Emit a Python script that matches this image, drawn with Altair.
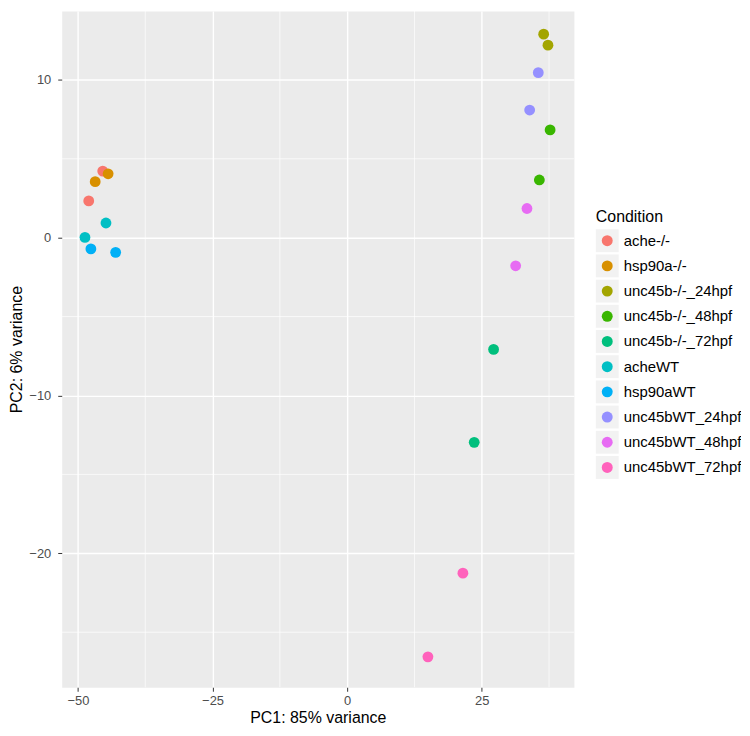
import altair as alt
import pandas as pd

# Legend / category order
conditions = ["ache-/-", "hsp90a-/-", "unc45b-/-_24hpf", "unc45b-/-_48hpf", "unc45b-/-_72hpf",
              "acheWT", "hsp90aWT", "unc45bWT_24hpf", "unc45bWT_48hpf", "unc45bWT_72hpf"]
palette = ["#F8766D", "#D89000", "#A3A500", "#39B600", "#00BF7D",
           "#00BFC4", "#00B0F6", "#9590FF", "#E76BF3", "#FF62BC"]

# Sample points
point_condition = ["ache-/-", "ache-/-", "hsp90a-/-", "hsp90a-/-", "acheWT", "acheWT",
                   "hsp90aWT", "hsp90aWT", "unc45b-/-_24hpf", "unc45b-/-_24hpf",
                   "unc45bWT_24hpf", "unc45bWT_24hpf", "unc45b-/-_48hpf", "unc45b-/-_48hpf",
                   "unc45bWT_48hpf", "unc45bWT_48hpf", "unc45b-/-_72hpf", "unc45b-/-_72hpf",
                   "unc45bWT_72hpf", "unc45bWT_72hpf"]
pc1 = [-45.4, -48.0, -44.4, -46.8, -44.8, -48.7, -47.6, -43.0, 36.5, 37.3,
       35.5, 33.9, 37.7, 35.7, 33.4, 31.3, 27.2, 23.6, 21.5, 15.0]
pc2 = [4.22, 2.33, 4.05, 3.55, 0.93, 0.02, -0.71, -0.93, 12.9, 12.2,
       10.46, 8.09, 6.83, 3.66, 1.85, -1.78, -7.08, -12.97, -21.26, -26.56]

x_ticks = [-50, -25, 0, 25]
y_ticks = [-20, -10, 0, 10]
x_minor = [-37.5, -12.5, 12.5, 37.5]
y_minor = [-25, -15, -5, 5]

FONT = "Liberation Sans"

df = pd.DataFrame({"Condition": point_condition, "PC1": pc1, "PC2": pc2})
legend_df = pd.DataFrame({"Condition": conditions, "idx": list(range(len(conditions)))})

color_scale = alt.Scale(domain=conditions, range=palette)
x_scale = alt.Scale(domain=[-53.02, 42.12], nice=False, zero=False)
y_scale = alt.Scale(domain=[-28.49, 14.37], nice=False, zero=False)

axis_common = dict(
    grid=True, gridColor="white", gridWidth=1.4, domain=False,
    tickColor="#333333", tickSize=4, tickWidth=1,
    labelFont=FONT, labelFontSize=13, labelColor="#4D4D4D",
    titleFont=FONT, titleFontSize=16, titleColor="black", titleFontWeight="normal",
)

xminor = alt.Chart(pd.DataFrame({"v": x_minor})).mark_rule(color="white", strokeWidth=0.7).encode(
    x=alt.X("v:Q", scale=x_scale)
)
yminor = alt.Chart(pd.DataFrame({"v": y_minor})).mark_rule(color="white", strokeWidth=0.7).encode(
    y=alt.Y("v:Q", scale=y_scale)
)
points = alt.Chart(df).mark_circle(size=118, opacity=1).encode(
    x=alt.X("PC1:Q", scale=x_scale, title="PC1: 85% variance",
            axis=alt.Axis(values=x_ticks, labelPadding=3, titlePadding=2, **axis_common)),
    y=alt.Y("PC2:Q", scale=y_scale, title="PC2: 6% variance",
            axis=alt.Axis(values=y_ticks, labelPadding=7, titlePadding=4, **axis_common)),
    color=alt.Color("Condition:N", scale=color_scale, legend=None),
)

main = alt.layer(xminor, yminor, points).properties(
    width=515, height=680,
    view=alt.ViewBackground(fill="#EBEBEB", stroke="transparent"),
)

leg_y = alt.Y("idx:Q", scale=alt.Scale(domain=[-9.12, 17.725], reverse=True, nice=False, zero=False), axis=None)
leg_boxes = alt.Chart(legend_df).mark_square(size=529, color="#F2F2F2", opacity=1).encode(
    x=alt.value(11.5), y=leg_y
)
leg_dots = alt.Chart(legend_df).mark_circle(size=121, opacity=1).encode(
    x=alt.value(11.5), y=leg_y,
    color=alt.Color("Condition:N", scale=color_scale, legend=None),
)
leg_text = alt.Chart(legend_df).mark_text(align="left", baseline="middle", font=FONT, fontSize=15, color="black", clip=True).encode(
    x=alt.value(28), y=leg_y, text="Condition:N"
)
leg_title = alt.Chart(pd.DataFrame({"t": ["Condition"]})).mark_text(
    align="left", baseline="alphabetic", font=FONT, fontSize=16, color="black"
).encode(x=alt.value(0), y=alt.value(212), text="t:N")

legend = alt.layer(leg_boxes, leg_dots, leg_text, leg_title).properties(
    width=146, height=680,
    view=alt.ViewBackground(fill="white", stroke="transparent"),
)

chart = alt.hconcat(main, legend, spacing=20).properties(
    padding={"left": 0, "top": 0, "right": 0, "bottom": 0},
    background="white",
).configure_view(stroke="transparent")

chart.save("out.html", embed_options={"renderer": "svg", "actions": False})
